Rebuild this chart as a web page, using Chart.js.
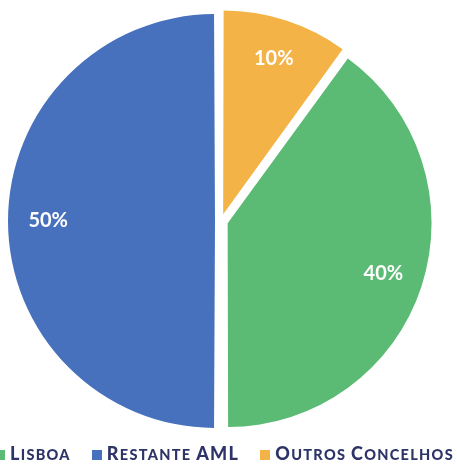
<!DOCTYPE html>
<html lang="pt">
<head>
<meta charset="utf-8">
<title>Distribuição por concelho</title>
<script src="https://cdn.jsdelivr.net/npm/chart.js@4.4.1/dist/chart.umd.min.js"></script>
<style>
  html, body { margin: 0; padding: 0; background: #fff; overflow: hidden; }
  #wrap { position: relative; width: 457px; height: 465px; }
  #legenda {
    position: absolute; left: -5px; top: 442px;
    margin: 0; padding: 0; list-style: none;
    display: flex; white-space: nowrap;
    font-family: Lato, sans-serif; font-weight: 900; color: #2E3468;
  }
  #legenda li { display: flex; align-items: baseline; margin-right: 21px; }
  #legenda .caixa { display: inline-block; width: 10px; height: 10px; margin-right: 5px; }
  #legenda .texto { letter-spacing: 1.3px; }
  #legenda .mai { font-size: 18px; }
  #legenda .min { font-size: 14.5px; text-transform: uppercase; }
</style>
</head>
<body>
<div id="wrap">
  <canvas id="pieChart"></canvas>
  <ul id="legenda"></ul>
</div>
<script>
'use strict';

// Categorias (pela ordem da legenda)
const categorias = ['Lisboa', 'Restante AML', 'Outros Concelhos'];
// Percentagem de cada categoria
const percentagens = [40, 50, 10];
// Cores das fatias
const cores = ['#5BBA73', '#4771BC', '#F4B346'];
// Afastamento de cada fatia em relação ao centro
const afastamentos = [28, 24, 28];

/**
 * Legenda em HTML, com as minúsculas em versaletes
 */
const legendaHtmlPlugin = {
    id: 'legendaHtml',
    afterUpdate(chart) {
        const lista = document.getElementById('legenda');
        lista.innerHTML = '';
        const itens = chart.options.plugins.legend.labels.generateLabels(chart);
        itens.forEach(item => {
            const li = document.createElement('li');
            const caixa = document.createElement('span');
            caixa.className = 'caixa';
            caixa.style.background = item.fillStyle;
            li.appendChild(caixa);
            const texto = document.createElement('span');
            texto.className = 'texto';
            // maiúsculas no tamanho normal, o resto em maiúsculas pequenas
            item.text.match(/[A-Z]+|[^A-Z]+/g).forEach(parte => {
                const s = document.createElement('span');
                s.className = /[A-Z]/.test(parte[0]) ? 'mai' : 'min';
                s.textContent = parte;
                texto.appendChild(s);
            });
            li.appendChild(texto);
            lista.appendChild(li);
        });
    }
};

/**
 * Escreve a percentagem dentro de cada fatia
 */
const rotulosPlugin = {
    id: 'rotulos',
    afterDatasetsDraw(chart) {
        const ctx = chart.ctx;
        const meta = chart.getDatasetMeta(0);
        ctx.save();
        ctx.font = 'bold 20px Lato';
        ctx.fillStyle = '#ffffff';
        ctx.textAlign = 'center';
        ctx.textBaseline = 'middle';
        meta.data.forEach((arc, i) => {
            const {x, y, startAngle, endAngle, outerRadius, circumference} =
                arc.getProps(['x', 'y', 'startAngle', 'endAngle', 'outerRadius', 'circumference'], true);
            const meio = (startAngle + endAngle) / 2;
            // o mesmo deslocamento que o Chart.js aplica à fatia
            const off = (arc.options.offset || 0) / 4;
            const fix = 1 - Math.sin(Math.min(Math.PI, circumference));
            const d = off * (1 + fix) + outerRadius * 0.8;
            ctx.fillText(percentagens[i] + '%', x + Math.cos(meio) * d, y + Math.sin(meio) * d);
        });
        ctx.restore();
    }
};

const pieConfig = {
    type: 'pie',
    data: {
        labels: categorias,
        datasets: [{
            data: percentagens,
            backgroundColor: cores,
            borderWidth: 0,
            offset: afastamentos,
            hoverOffset: 0
        }]
    },
    options: {
        responsive: true,
        maintainAspectRatio: false,
        animation: false,
        rotation: 36,
        radius: 201,
        layout: {
            padding: {top: 17, right: 15, bottom: 40, left: 0}
        },
        plugins: {
            legend: {display: false},
            tooltip: {enabled: false}
        }
    },
    plugins: [legendaHtmlPlugin, rotulosPlugin]
};

const pieChart = new Chart(document.getElementById('pieChart'), pieConfig);
</script>
</body>
</html>
